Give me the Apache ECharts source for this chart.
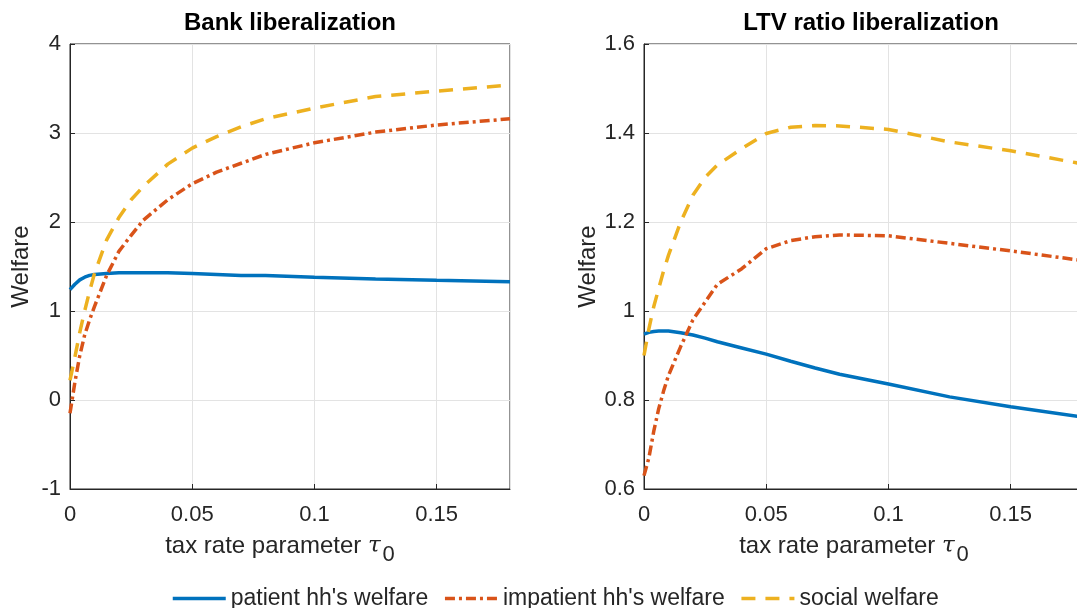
<!DOCTYPE html>
<html>
<head>
<meta charset="utf-8">
<title>Welfare</title>
<script src="https://cdn.jsdelivr.net/npm/echarts@6/dist/echarts.min.js"></script>
<style>
  html, body { margin: 0; padding: 0; background: #fff; }
  #main { width: 1077px; height: 608px; }
</style>
</head>
<body>
<div id="main"></div>
<script>
// tax rate parameter tau_0 (shared x grid)
var taxRate = [0, 0.002, 0.004, 0.006, 0.008, 0.01, 0.015, 0.02, 0.025, 0.03,
               0.04, 0.05, 0.06, 0.07, 0.08, 0.1, 0.125, 0.15, 0.18];

// Bank liberalization
var bankPatient   = [1.24, 1.30, 1.35, 1.38, 1.40, 1.41, 1.42, 1.43, 1.43, 1.43,
                     1.43, 1.42, 1.41, 1.40, 1.40, 1.38, 1.36, 1.345, 1.33];
var bankImpatient = [-0.15, 0.20, 0.50, 0.73, 0.90, 1.05, 1.40, 1.67, 1.85, 2.02,
                     2.25, 2.43, 2.56, 2.66, 2.76, 2.89, 3.01, 3.09, 3.16];
var bankSocial    = [0.22, 0.48, 0.76, 1.00, 1.22, 1.42, 1.80, 2.05, 2.25, 2.40,
                     2.65, 2.83, 2.96, 3.07, 3.16, 3.28, 3.41, 3.47, 3.54];

// LTV ratio liberalization
var ltvPatient   = [0.948, 0.952, 0.954, 0.955, 0.955, 0.955, 0.951, 0.946, 0.939, 0.931,
                    0.917, 0.903, 0.887, 0.872, 0.858, 0.836, 0.807, 0.785, 0.761];
var ltvImpatient = [0.63, 0.67, 0.73, 0.78, 0.82, 0.855, 0.92, 0.98, 1.02, 1.06,
                    1.095, 1.14, 1.158, 1.167, 1.171, 1.169, 1.152, 1.135, 1.113];
var ltvSocial    = [0.90, 0.96, 1.01, 1.05, 1.09, 1.125, 1.20, 1.26, 1.30, 1.328,
                    1.365, 1.399, 1.413, 1.417, 1.416, 1.408, 1.38, 1.36, 1.33];

var titles = ["Bank liberalization", "LTV ratio liberalization"];
var seriesNames = ["patient hh's welfare", "impatient hh's welfare", "social welfare"];
var xTicks = [0, 0.05, 0.1, 0.15];

var FONT = "Liberation Sans";
var INK = "#262626";
var colors = ["#0072BD", "#D95319", "#EDB120"];
var lineTypes = ["solid", [10, 4, 3, 4], [14, 10]];

function pairs(ys) {
  return taxRate.map(function (x, i) { return [x, ys[i]]; });
}

function xAxisFor(gi) {
  return {
    type: "value", gridIndex: gi, min: 0, max: 0.18, interval: 0.05,
    name: "tax rate parameter {tau|τ}{sub|0}",
    nameLocation: "middle", nameGap: 37,
    nameTextStyle: {
      color: INK, fontFamily: FONT, fontSize: 24, padding: [0, 20, 0, 0],
      rich: {
        tau: { fontFamily: "DejaVu Serif", fontStyle: "italic", fontSize: 23, color: INK },
        sub: { fontFamily: FONT, fontSize: 22, color: INK, padding: [18, 0, 0, 2] }
      }
    },
    axisLine: { show: true, onZero: false, lineStyle: { color: INK, width: 1 } },
    axisTick: { show: true, inside: true, length: 5, lineStyle: { color: INK } },
    axisLabel: {
      color: INK, fontFamily: FONT, fontSize: 22, margin: 15,
      showMaxLabel: false,
      formatter: function (v) { return xTicks.indexOf(+v.toFixed(3)) >= 0 ? String(+v.toFixed(3)) : ""; }
    },
    splitLine: { show: true, lineStyle: { color: "#e3e3e3", width: 1 } }
  };
}

function yAxisFor(gi, min, max, step) {
  return {
    type: "value", gridIndex: gi, min: min, max: max, interval: step,
    name: "Welfare", nameLocation: "middle", nameGap: 37, nameRotate: 90,
    nameTextStyle: { color: INK, fontFamily: FONT, fontSize: 24 },
    axisLine: { show: true, onZero: false, lineStyle: { color: INK, width: 1 } },
    axisTick: { show: true, inside: true, length: 5, lineStyle: { color: INK } },
    axisLabel: {
      color: INK, fontFamily: FONT, fontSize: 22, margin: 9,
      formatter: function (v) { return String(+v.toFixed(2)); }
    },
    splitLine: { show: true, lineStyle: { color: "#e3e3e3", width: 1 } }
  };
}

function line(name, k, gi, ys) {
  return {
    name: name, type: "line", xAxisIndex: gi, yAxisIndex: gi,
    data: pairs(ys), showSymbol: false, symbol: "none", smooth: false,
    lineStyle: { color: colors[k], width: 3.5, type: lineTypes[k] },
    itemStyle: { color: colors[k] },
    animation: false, z: 3
  };
}

var chart = echarts.init(document.getElementById("main"), null, { renderer: "canvas" });

chart.setOption({
  backgroundColor: "#ffffff",
  animation: false,
  title: [
    { text: titles[0], left: 285, top: 6, textAlign: "center",
      textStyle: { fontFamily: FONT, fontSize: 24, fontWeight: "bold", color: "#000" } },
    { text: titles[1], left: 866, top: 6, textAlign: "center",
      textStyle: { fontFamily: FONT, fontSize: 24, fontWeight: "bold", color: "#000" } }
  ],
  grid: [
    { left: 70, top: 44, width: 440, height: 445, outerBoundsMode: "none",
      show: true, borderColor: INK, borderWidth: 1 },
    { left: 644, top: 44, width: 440, height: 445, outerBoundsMode: "none",
      show: true, borderColor: INK, borderWidth: 1 }
  ],
  legend: {
    data: seriesNames,
    left: 166, top: 582,
    itemWidth: 53, itemHeight: 14, itemGap: 15,
    itemStyle: { opacity: 0 },
    lineStyle: { width: 3.5 },
    textStyle: { fontFamily: FONT, fontSize: 23, color: INK }
  },
  xAxis: [xAxisFor(0), xAxisFor(1)],
  yAxis: [yAxisFor(0, -1, 4, 1), yAxisFor(1, 0.6, 1.6, 0.2)],
  series: [
    line(seriesNames[0], 0, 0, bankPatient),
    line(seriesNames[1], 1, 0, bankImpatient),
    line(seriesNames[2], 2, 0, bankSocial),
    line(seriesNames[0], 0, 1, ltvPatient),
    line(seriesNames[1], 1, 1, ltvImpatient),
    line(seriesNames[2], 2, 1, ltvSocial)
  ]
});
</script>
</body>
</html>
